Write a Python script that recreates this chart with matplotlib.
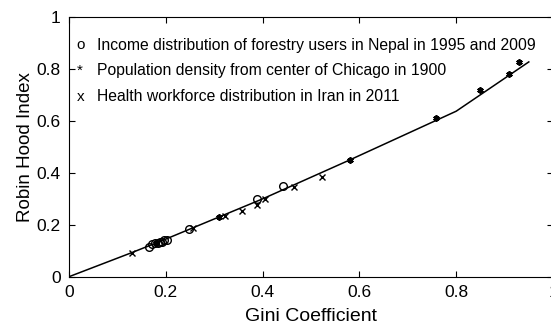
import matplotlib
matplotlib.use("Agg")
import matplotlib.pyplot as plt

plt.rcParams['font.family'] = ['Liberation Sans', 'DejaVu Sans']

# Robin Hood index vs Gini coefficient, reference curve
curve_gini = [0.0, 0.13, 0.20, 0.40, 0.58, 0.80, 0.95]
curve_rh = [0.0, 0.093, 0.145, 0.30, 0.45, 0.638, 0.828]

# Nepal forestry users (o)
nepal_gini = [0.165, 0.172, 0.178, 0.183, 0.188, 0.192, 0.197, 0.203, 0.247, 0.389, 0.442]
nepal_rh = [0.115, 0.125, 0.130, 0.128, 0.135, 0.132, 0.140, 0.142, 0.185, 0.298, 0.348]

# Chicago population density (*)
chicago_gini = [0.18, 0.309, 0.580, 0.758, 0.849, 0.909, 0.930]
chicago_rh = [0.130, 0.231, 0.450, 0.611, 0.720, 0.780, 0.829]

# Iran health workforce (x)
iran_gini = [0.13, 0.257, 0.322, 0.357, 0.389, 0.405, 0.464, 0.522]
iran_rh = [0.093, 0.186, 0.233, 0.255, 0.277, 0.300, 0.346, 0.383]

legend_marks = ['o', '*', 'x']
legend_texts = ['Income distribution of forestry users in Nepal in 1995 and 2009',
                'Population density from center of Chicago in 1900',
                'Health workforce distribution in Iran in 2011']

fig = plt.figure(figsize=(5.51, 3.27), dpi=100)
ax = fig.add_axes([69/551, 50.3/327, 484/551, 259.4/327])

ax.plot(curve_gini, curve_rh, color='black', lw=1.1)
ax.plot(nepal_gini, nepal_rh, 'o', mfc='none', mec='black', ms=5.5, mew=1.0)
ax.plot(chicago_gini, chicago_rh, marker=(6, 2, 0), ls='none', color='black', ms=4.5, mew=1.4)
ax.plot(iran_gini, iran_rh, 'x', color='black', ms=4, mew=1.0)

# hand-made key: marker character followed by its description
for i, (m, t) in enumerate(zip(legend_marks, legend_texts)):
    yy = 0.893 - i * 0.0995
    ax.text(0.016, yy, m, fontsize=11, va='center', ha='left')
    ax.text(0.058, yy, t, fontsize=11.3, va='center', ha='left')

ax.set_xlim(0, 1)
ax.set_ylim(0, 1)
ticks = [0, 0.2, 0.4, 0.6, 0.8, 1]
ax.set_xticks(ticks)
ax.set_yticks(ticks)
ax.set_xticklabels(['0', '0.2', '0.4', '0.6', '0.8', '1'])
ax.tick_params(direction='in', top=True, right=True, labelsize=12.5, length=4, width=0.8)
ax.set_yticklabels(['0', '0.2', '0.4', '0.6', '0.8', '1'])
ax.tick_params(axis='y', pad=6)
ax.tick_params(axis='x', pad=6)
for s in ax.spines.values():
    s.set_linewidth(0.8)
ax.set_xlabel('Gini Coefficient', fontsize=14, labelpad=6)
ax.set_ylabel('Robin Hood Index', fontsize=13.5, labelpad=2)

fig.savefig('out.png', dpi=100)
